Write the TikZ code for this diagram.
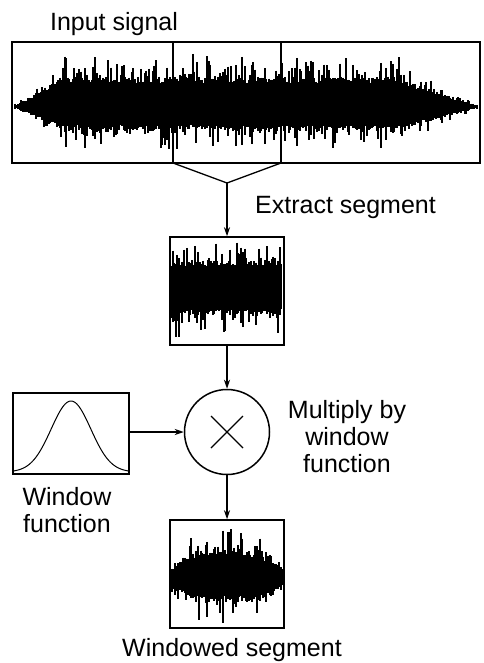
\documentclass[tikz,border=0pt]{standalone}
\usepackage{fontspec}
\setmainfont{Liberation Sans}
\usetikzlibrary{arrows.meta,calc}

\tikzset{
  lbl/.style={inner sep=0pt, font=\fontsize{25}{27}\selectfont},
  frame/.style={draw, line width=1.5pt, inner sep=0pt, fill=none},
  link/.style={line width=1.3pt},
  arrow/.style={link, -{Stealth[length=9pt,width=6pt]}},
  wave/.style={line width=2pt},
}

\begin{document}
\begin{tikzpicture}[x=1pt,y=-1pt]
  \useasboundingbox (0,0) rectangle (483,663);

  % ---- boxes and the multiplier ----
  \node[frame, minimum width=468pt, minimum height=121pt] (inbox) at (246,102.5) {};
  \node[frame, minimum width=114pt, minimum height=108pt] (segbox) at (227,291) {};
  \node[frame, circle, minimum size=85pt] (mult) at (227,432) {};
  \node[frame, minimum width=116pt, minimum height=81pt] (winbox) at (71,433.5) {};
  \node[frame, minimum width=114pt, minimum height=108pt] (outbox) at (227,574) {};

  % ---- input signal: long noisy waveform with tapered ends ----
  \pgfmathsetseed{11}
  \foreach \x in {15,16.6,...,479} {
    \pgfmathsetmacro\e{max(0.07,min(1,(\x-14)/50))*max(0.07,min(1,(480-\x)/85))}
    \pgfmathsetmacro\u{\e*(24+6*rnd+24*rnd^3)}
    \pgfmathsetmacro\d{\e*(18+5*rnd+20*rnd^3)}
    \draw[wave] (\x,107-\u) -- (\x,107+\d);
  }

  % segment markers inside the input box
  \coordinate (sl) at (173,163);
  \coordinate (sr) at (281,163);
  \draw[line width=1.3pt] (173,42) -- (sl);
  \draw[line width=1.3pt] (281,42) -- (sr);
  \coordinate (apex) at (227,183);
  \draw[link] (sl) -- (apex) -- (sr);
  \draw[arrow] (apex) -- (segbox.north);

  % ---- extracted segment ----
  \pgfmathsetseed{23}
  \foreach \x in {171,172.6,...,282} {
    \pgfmathsetmacro\u{23+5*rnd+20*rnd^3}
    \pgfmathsetmacro\d{19+6*rnd+26*rnd^4}
    \draw[wave] (\x,290-\u) -- (\x,290+\d);
  }

  % ---- window function curve ----
  \draw[line width=1pt] plot[domain=14:128, samples=90, smooth]
    (\x,{472-71*exp(-((\x-71)/28)^2)});

  % ---- windowed segment ----
  \pgfmathsetseed{37}
  \foreach \x in {172,173.6,...,283} {
    \pgfmathsetmacro\e{exp(-((\x-227)/54)^4)}
    \pgfmathsetmacro\u{\e*(22+5*rnd+24*rnd^3)}
    \pgfmathsetmacro\d{\e*(18+5*rnd+26*rnd^3)}
    \draw[wave] (\x,578-\u) -- (\x,578+\d);
  }

  % ---- multiply sign ----
  \draw[line width=1.4pt] ($(mult.center)+(-16,-16)$) -- ($(mult.center)+(16,16)$);
  \draw[line width=1.4pt] ($(mult.center)+(-16,16)$) -- ($(mult.center)+(16,-16)$);

  % ---- connectors ----
  \draw[arrow] (segbox.south) -- (mult.north);
  \draw[arrow] (mult.west -| winbox.east) -- (mult.west);
  \draw[arrow] (mult.south) -- (outbox.north);

  % ---- labels ----
  \node[lbl] (tin) at (114,24) {Input signal};
  \node[lbl, anchor=west] (text) at (255,207) {Extract segment};
  \node[lbl, align=center] (tmul) at (347,437) {Multiply by\\window\\function};
  \node[lbl, align=center] (twin) at (67,510) {Window\\function};
  \node[lbl] (tout) at (232,650) {Windowed segment};
\end{tikzpicture}
\end{document}
